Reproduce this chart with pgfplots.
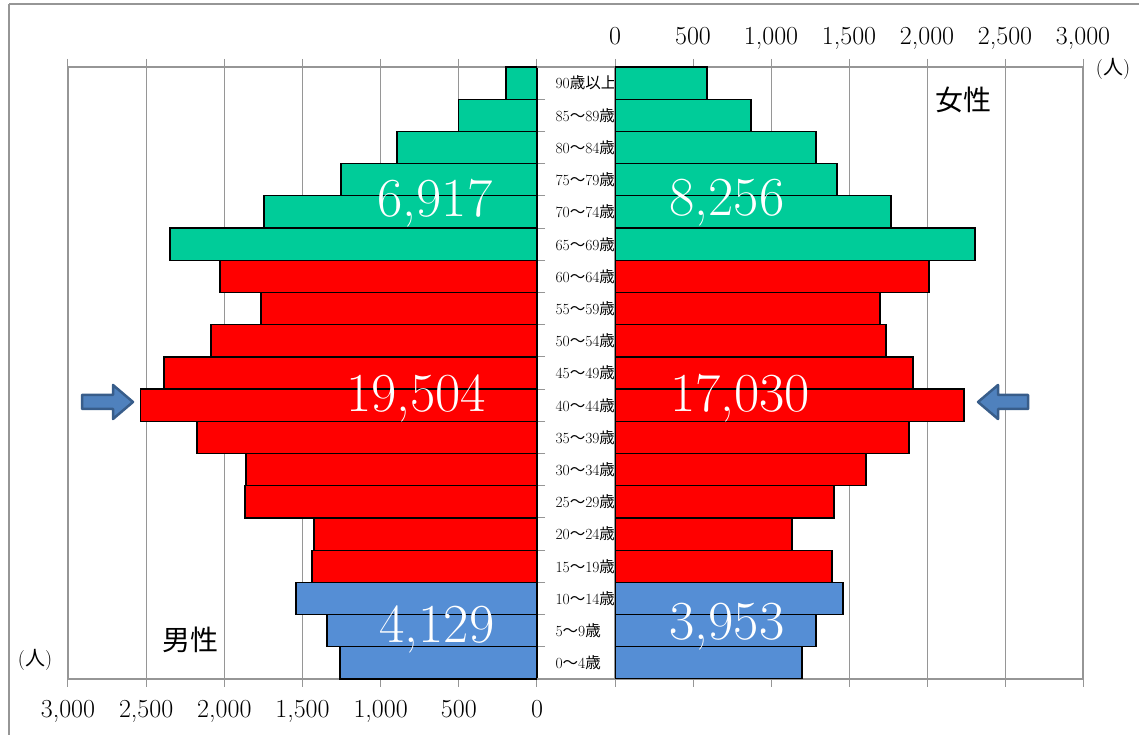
\documentclass[border=0pt]{standalone}
\usepackage{fontspec}
\usepackage{pgfplots}
\pgfplotsset{compat=1.18}
\newfontfamily\jp{Noto Sans CJK JP}

\definecolor{old}{RGB}{0,204,153}
\definecolor{work}{RGB}{255,0,0}
\definecolor{young}{RGB}{85,142,213}
\definecolor{gridgray}{RGB}{150,150,150}
\definecolor{arrowfill}{RGB}{79,129,189}
\definecolor{arrowedge}{RGB}{56,93,138}

\newcommand\ag[2]{#1{\jp ～}#2{\jp 歳}}

\pgfplotsset{pyr/.style={
    scale only axis, height=612pt,
    xbar, bar width=1, bar shift=0pt,
    xmin=0, xmax=3000, ymin=-0.5, ymax=18.5,
    xtick={0,500,...,3000}, xmajorgrids,
    grid style={gridgray, line width=1pt},
    axis line style={gridgray, line width=1.2pt},
    major tick length=8pt, tick align=outside,
    tick style={gridgray, line width=1pt},
    xtick pos=both,
    scaled x ticks=false,
    /pgf/number format/1000 sep={,},
    /pgf/number format/assume math mode=true,
    xticklabel style={font=\fontsize{26}{30}\selectfont, text height=17pt, text depth=5pt},
    every axis plot/.append style={draw=black, line width=1.3pt},
}}

\begin{document}
\begin{tikzpicture}[x=1pt, y=1pt]
\useasboundingbox (0,0) rectangle (1139,735);

% male
\begin{axis}[pyr, width=469pt, at={(68pt,56pt)}, anchor=south west,
    x dir=reverse, xticklabel pos=lower, clip=false,
    ytick={-0.5,0.5,...,18.5}, yticklabels={}, ytick pos=right,
    xticklabel style={yshift=-10pt}]
\addplot[fill=young] coordinates {(1260,0) (1344,1) (1542,2)};
\addplot[fill=work] coordinates {(1440,3) (1427,4) (1868,5) (1862,6) (2175,7)
    (2534,8) (2386,9) (2086,10) (1766,11) (2028,12)};
\addplot[fill=old] coordinates {(2348,13) (1747,14) (1254,15) (896,16) (500,17) (198,18)};
\begin{scope}[every node/.style={anchor=west, xshift=15pt, font=\fontsize{15.5}{18}\selectfont}]
\node at (axis cs:0,0) {\ag{0}{4}};
\node at (axis cs:0,1) {\ag{5}{9}};
\node at (axis cs:0,2) {\ag{10}{14}};
\node at (axis cs:0,3) {\ag{15}{19}};
\node at (axis cs:0,4) {\ag{20}{24}};
\node at (axis cs:0,5) {\ag{25}{29}};
\node at (axis cs:0,6) {\ag{30}{34}};
\node at (axis cs:0,7) {\ag{35}{39}};
\node at (axis cs:0,8) {\ag{40}{44}};
\node at (axis cs:0,9) {\ag{45}{49}};
\node at (axis cs:0,10) {\ag{50}{54}};
\node at (axis cs:0,11) {\ag{55}{59}};
\node at (axis cs:0,12) {\ag{60}{64}};
\node at (axis cs:0,13) {\ag{65}{69}};
\node at (axis cs:0,14) {\ag{70}{74}};
\node at (axis cs:0,15) {\ag{75}{79}};
\node at (axis cs:0,16) {\ag{80}{84}};
\node at (axis cs:0,17) {\ag{85}{89}};
\node at (axis cs:0,18) {90{\jp 歳以上}};
\end{scope}
\end{axis}

% female
\begin{axis}[pyr, width=468pt, at={(615pt,56pt)}, anchor=south west,
    xticklabel pos=upper, ytick=\empty,
    xticklabel style={yshift=6pt}]
\addplot[fill=young] coordinates {(1199,0) (1288,1) (1462,2)};
\addplot[fill=work] coordinates {(1391,3) (1135,4) (1404,5) (1609,6) (1885,7)
    (2237,8) (1910,9) (1737,10) (1699,11) (2013,12)};
\addplot[fill=old] coordinates {(2308,13) (1769,14) (1423,15) (1288,16) (872,17) (590,18)};
\end{axis}

% lines across the centre column
\draw[gridgray, line width=1.2pt] (537,56) -- (615,56) (537,668) -- (615,668);

% outer frame
\draw[gridgray, line width=1.2pt] (9,731) -- (1160,731) (9,731) -- (9,-10);

% totals
\begin{scope}[every node/.style={text=white, font=\fontsize{55}{60}\selectfont}]
\node at (435,532) {6,917};
\node at (727,532) {8,256};
\node at (416,337) {19,504};
\node at (740,337) {17,030};
\node at (437,106) {4,129};
\node at (727,108) {3,953};
\end{scope}

\node[font=\fontsize{28}{32}\selectfont\jp] at (190,95) {男性};
\node[font=\fontsize{28}{32}\selectfont\jp] at (963,635) {女性};
\node[font=\fontsize{20}{24}\selectfont] at (35,75) {({\jp 人})};
\node[font=\fontsize{20}{24}\selectfont] at (1113,666) {({\jp 人})};

% arrows
\draw[fill=arrowfill, draw=arrowedge, line width=2.5pt, line join=round]
  (82,340) -- (113,340) -- (113,350) -- (133,333) -- (113,316) -- (113,326) -- (82,326) -- cycle;
\draw[fill=arrowfill, draw=arrowedge, line width=2.5pt, line join=round]
  (1028,340) -- (998,340) -- (998,350) -- (978,333) -- (998,316) -- (998,326) -- (1028,326) -- cycle;
\end{tikzpicture}
\end{document}
